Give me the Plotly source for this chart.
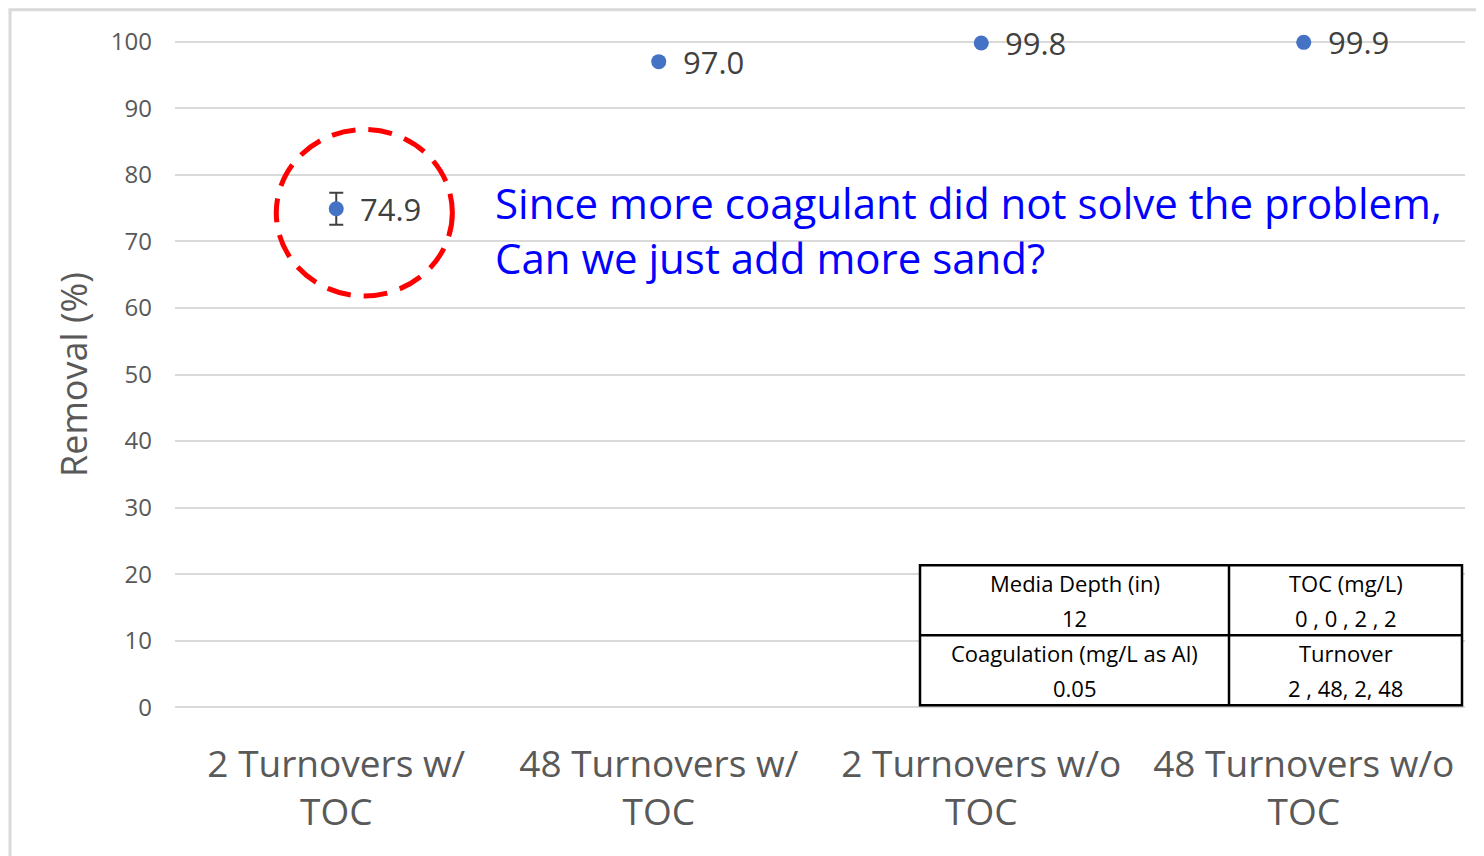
import plotly.graph_objects as go

categories = ["2 Turnovers w/<br>TOC", "48 Turnovers w/<br>TOC", "2 Turnovers w/o<br>TOC", "48 Turnovers w/o<br>TOC"]
removal = [74.9, 97.0, 99.8, 99.9]
removal_err = [2.4, 0, 0, 0]
y_ticks = [0, 10, 20, 30, 40, 50, 60, 70, 80, 90, 100]
table_cells = [
    ["Media Depth (in)", "12"],
    ["TOC (mg/L)", "0 , 0 , 2 , 2"],
    ["Coagulation (mg/L as Al)", "0.05"],
    ["Turnover", "2 , 48, 2, 48"],
]
callout_text = "Since more coagulant did not solve the problem,<br>Can we just add more sand?"

FONT = "Open Sans"
GRAY = "#595959"

# page body margin offset (8px) compensation
OFF = 8
IMG_W, IMG_H = 1484, 856
YPAD = 0.4  # small range padding so the 0 and 100 gridlines are drawn
UNIT = 665 / 100.0
PL, PR = 175, 1465
PT, PB = 42 - YPAD * UNIT, 707 + YPAD * UNIT  # plot area in image pixels
W, H = IMG_W - OFF, IMG_H - OFF
L, T = PL - OFF, PT - OFF
R, B = IMG_W - PR, IMG_H - PB
pw, ph = PR - PL, PB - PT


def px(x):
    return (x - PL) / pw


def py(y):
    return (PB - y) / ph


fig = go.Figure()
fig.add_trace(go.Scatter(
    x=list(range(len(categories))), y=removal, mode="markers",
    marker=dict(color="#4472C4", size=15),
    error_y=dict(type="data", array=removal_err, visible=True, color="#404040", thickness=2, width=7),
    cliponaxis=False, showlegend=False,
))

annotations = []
for i, v in enumerate(removal):
    annotations.append(dict(x=i, y=v, xref="x", yref="y", text=f"{v:.1f}", showarrow=False,
                            xanchor="left", yanchor="middle", xshift=22,
                            font=dict(family=FONT, size=31, color="#404040")))

annotations.append(dict(x=px(493), y=py(230), xref="paper", yref="paper", text=callout_text,
                        showarrow=False, xanchor="left", yanchor="middle", align="left",
                        font=dict(family=FONT, size=42, color="#0000FF")))

shapes = []
# outer chart border
shapes.append(dict(type="rect", xref="paper", yref="paper", x0=px(10), x1=px(1500), y0=py(10), y1=py(880),
                   line=dict(color="#D9D9D9", width=3), fillcolor="rgba(0,0,0,0)", layer="below"))
# dashed circle
shapes.append(dict(type="circle", xref="x", yref="y", x0=-0.186, x1=0.36, y0=61.8, y1=86.8,
                   line=dict(color="#FF0000", width=5, dash="24px,13px")))
# table
cols = [920, 1229, 1462]
rows = [565, 635, 705]
shapes.append(dict(type="rect", xref="paper", yref="paper", x0=px(cols[0]), x1=px(cols[2]), y0=py(rows[2]), y1=py(rows[0]),
                   fillcolor="white", line=dict(color="black", width=2.5)))
shapes.append(dict(type="line", xref="paper", yref="paper", x0=px(cols[1]), x1=px(cols[1]), y0=py(rows[2]), y1=py(rows[0]),
                   line=dict(color="black", width=2.5)))
shapes.append(dict(type="line", xref="paper", yref="paper", x0=px(cols[0]), x1=px(cols[2]), y0=py(rows[1]), y1=py(rows[1]),
                   line=dict(color="black", width=2.5)))
k = 0
for r in range(2):
    for c in range(2):
        cx = (cols[c] + cols[c + 1]) / 2
        head, val = table_cells[k]
        k += 1
        annotations.append(dict(x=px(cx), y=py(rows[r] + 18), xref="paper", yref="paper", text=head, showarrow=False,
                                xanchor="center", yanchor="middle", font=dict(family=FONT, size=22, color="black")))
        annotations.append(dict(x=px(cx), y=py(rows[r] + 53), xref="paper", yref="paper", text=val, showarrow=False,
                                xanchor="center", yanchor="middle", font=dict(family=FONT, size=22, color="black")))

fig.update_layout(
    width=W, height=H,
    margin=dict(l=L, r=R, t=T, b=B, pad=0),
    paper_bgcolor="white", plot_bgcolor="white",
    showlegend=False,
    annotations=annotations,
    shapes=shapes,
    xaxis=dict(range=[-0.5, 3.5], tickmode="array", tickvals=list(range(len(categories))), ticktext=categories,
               showgrid=False, zeroline=False, showline=False, ticks="",
               tickfont=dict(family=FONT, size=37, color=GRAY), ticklabelstandoff=29),
    yaxis=dict(range=[-YPAD, 100 + YPAD], tickmode="array", tickvals=y_ticks, ticktext=[str(t) for t in y_ticks],
               showgrid=True, gridcolor="#D9D9D9", gridwidth=2, zeroline=False, showline=False, ticks="",
               tickfont=dict(family=FONT, size=24, color=GRAY), ticklabelstandoff=22,
               title=dict(text="Removal (%)", font=dict(family=FONT, size=36, color=GRAY), standoff=12)),
)

fig.write_html("out.html")
